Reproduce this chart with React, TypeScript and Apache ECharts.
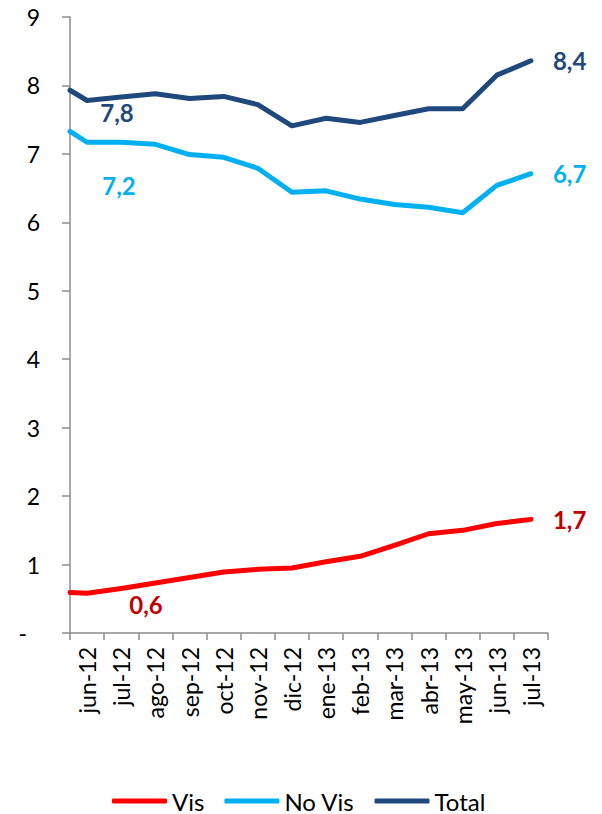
import React, { useEffect, useRef } from "react";
import * as echarts from "echarts";

const months = [
  "jun-12", "jul-12", "ago-12", "sep-12", "oct-12", "nov-12", "dic-12",
  "ene-13", "feb-13", "mar-13", "abr-13", "may-13", "jun-13", "jul-13",
];
// value at the left edge of the axis (before jun-12)
const startVis = 0.59;
const startNoVis = 7.33;
const startTotal = 7.93;
const visValues = [0.58, 0.65, 0.73, 0.81, 0.89, 0.93, 0.95, 1.04, 1.12, 1.28, 1.45, 1.5, 1.6, 1.66];
const noVisValues = [7.17, 7.17, 7.14, 6.99, 6.95, 6.79, 6.44, 6.46, 6.34, 6.26, 6.22, 6.14, 6.54, 6.71];
const totalValues = [7.78, 7.83, 7.88, 7.81, 7.84, 7.72, 7.41, 7.52, 7.46, 7.56, 7.66, 7.66, 8.15, 8.36];
const yTicks = [0, 1, 2, 3, 4, 5, 6, 7, 8, 9];

const FONT = "Lato, 'Liberation Sans', sans-serif";
const fmt = (v: number) => v.toFixed(1).replace(".", ",");

function buildData(start: number, values: number[], labelIdx: number, offset: number[], color: string) {
  const data: any[] = [[0, start]];
  values.forEach((v, i) => {
    const item: any = { value: [i + 0.5, v] };
    if (i === labelIdx) {
      item.label = {
        show: true,
        position: "inside",
        offset,
        color,
        fontFamily: FONT,
        fontWeight: "bold",
        fontSize: 24,
        formatter: (p: any) => fmt(p.value[1]),
      };
    }
    data.push(item);
  });
  return data;
}

export default function App() {
  const ref = useRef<HTMLDivElement>(null);
  useEffect(() => {
    if (!ref.current) return;
    const chart = echarts.init(ref.current, null, { renderer: "svg" });
    const mkSeries = (name: string, start: number, values: number[], color: string, labelColor: string, offset: number[]) => ({
      name,
      type: "line",
      xAxisIndex: 1,
      yAxisIndex: 0,
      data: buildData(start, values, 0, offset, labelColor),
      symbol: "circle",
      symbolSize: 0.1,
      showSymbol: true,
      itemStyle: { color },
      lineStyle: { color, width: 5, cap: "round", join: "round" },
      label: { show: false },
      endLabel: {
        show: true,
        distance: 22,
        color: labelColor,
        fontFamily: FONT,
        fontWeight: "bold",
        fontSize: 24,
        formatter: (p: any) => fmt(p.value[1]),
      },
      emphasis: { disabled: true },
    });
    chart.setOption({
      animation: false,
      grid: { left: 70, right: 54, top: 17, bottom: 181, outerBoundsMode: "none" },
      legend: {
        left: 107,
        top: 784,
        icon: "roundRect",
        itemWidth: 55,
        itemHeight: 5,
        itemGap: 20,
        textStyle: { fontFamily: FONT, fontSize: 24, color: "#000" },
        data: ["Vis", "No Vis", "Total"],
      },
      xAxis: [
        {
          type: "category",
          data: months,
          boundaryGap: true,
          axisLine: { show: true, lineStyle: { color: "#8c8c8c", width: 1.5 } },
          axisTick: { show: true, length: 7, lineStyle: { color: "#8c8c8c", width: 1.5 } },
          axisLabel: {
            interval: 0,
            rotate: 90,
            margin: 14,
            fontFamily: FONT,
            fontSize: 23,
            color: "#000",
          },
          splitLine: { show: false },
        },
        {
          type: "value",
          min: 0,
          max: months.length,
          show: false,
          position: "bottom",
        },
      ],
      yAxis: {
        type: "value",
        min: yTicks[0],
        max: yTicks[yTicks.length - 1],
        interval: 1,
        axisLine: { show: true, lineStyle: { color: "#8c8c8c", width: 1.5 } },
        axisTick: { show: true, length: 8, lineStyle: { color: "#8c8c8c", width: 1.5 } },
        axisLabel: {
          margin: 30,
          fontFamily: FONT,
          fontSize: 23,
          color: "#000",
          formatter: (v: number) => (v === 0 ? "{d|-}" : String(v)),
          rich: { d: { fontFamily: FONT, fontSize: 23, color: "#000", padding: [0, 13, 0, 0] } },
        },
        splitLine: { show: false },
      },
      series: [
        mkSeries("Vis", startVis, visValues, "#FF0000", "#C00000", [59, 11]),
        mkSeries("No Vis", startNoVis, noVisValues, "#00B0F0", "#00B0F0", [32, 43]),
        mkSeries("Total", startTotal, totalValues, "#1F497D", "#1F497D", [30, 12]),
      ],
    });
    return () => chart.dispose();
  }, []);
  return (
    <div
      ref={ref}
      style={{ position: "fixed", left: 0, top: 0, width: 602, height: 814, background: "#fff" }}
    />
  );
}
